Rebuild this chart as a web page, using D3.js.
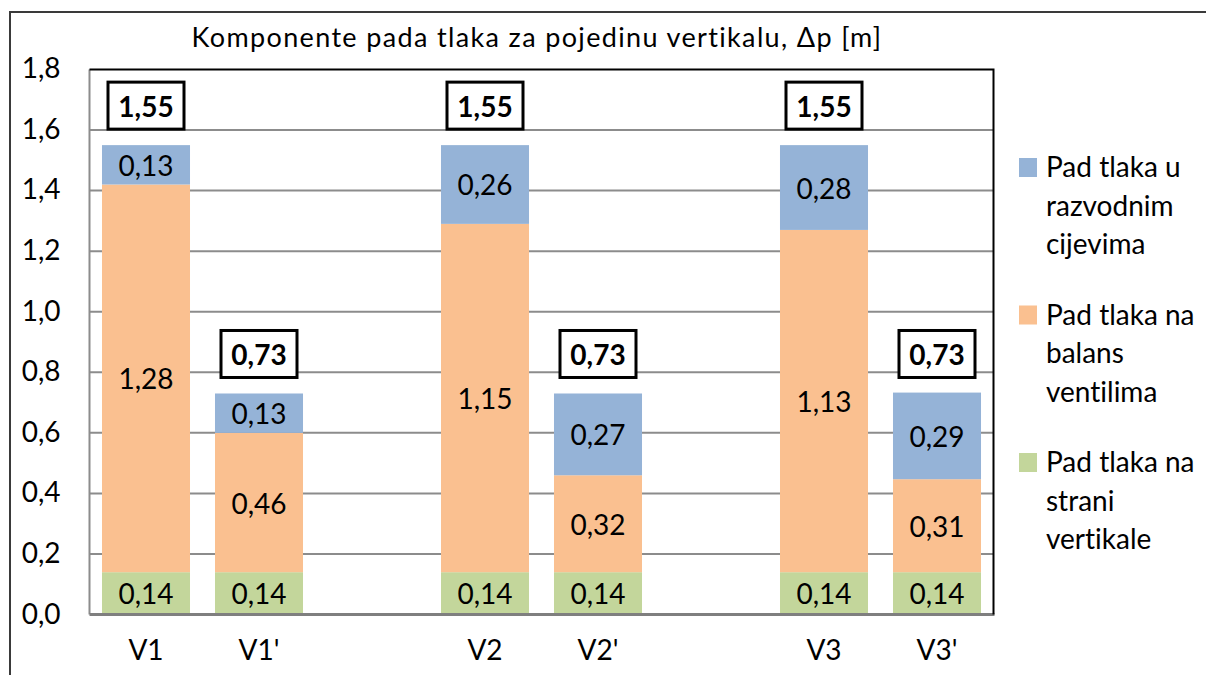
<!DOCTYPE html>
<html>
<head>
<meta charset="utf-8">
<script src="https://cdn.jsdelivr.net/npm/d3@7"></script>
<style>
  html, body { margin: 0; padding: 0; background: #fff; }
  svg { display: block; font-family: Lato, "Open Sans", sans-serif; font-variant-ligatures: none; }
  text { font-variant-ligatures: none; font-feature-settings: "liga" 0; }
</style>
</head>
<body>
<svg id="chart" width="1206" height="675"></svg>
<script>
// ---- data ----
const slots = ["V1", "V1'", "gap1", "V2", "V2'", "gap2", "V3", "V3'"];
const categories = ["V1", "V1'", "V2", "V2'", "V3", "V3'"];
const strani = [0.14, 0.14, 0.14, 0.14, 0.14, 0.14];
const balans = [1.28, 0.46, 1.15, 0.32, 1.13, 0.307];
const razvodne = [0.13, 0.13, 0.26, 0.27, 0.28, 0.286];
const totals = [1.55, 0.73, 1.55, 0.73, 1.55, 0.73];
const yTicks = [0, 0.2, 0.4, 0.6, 0.8, 1.0, 1.2, 1.4, 1.6, 1.8];
const legendLines = [["Pad tlaka u", "razvodnim", "cijevima"], ["Pad tlaka na", "balans", "ventilima"], ["Pad tlaka na", "strani", "vertikale"]];
const colors = { strani: "#C3D69B", balans: "#FAC090", razvodne: "#95B3D7" };
const title = "Komponente pada tlaka za pojedinu vertikalu, \u0394p [m]";

const fmt = v => d3.format(".2f")(v).replace(".", ",");
const fmt1 = v => d3.format(".1f")(v).replace(".", ",");

const svg = d3.select("#chart");

// outer chart border
svg.append("rect").attr("x", 10).attr("y", 12).attr("width", 1400).attr("height", 900)
  .attr("fill", "none").attr("stroke", "#3a3a3a").attr("stroke-width", 2);

const pLeft = 89.5, pRight = 993.5, pTop = 69.4, pBottom = 614.6;
const x = d3.scaleBand().domain(slots).range([pLeft, pRight]).paddingInner(0.221).paddingOuter(0.1105);
const y = d3.scaleLinear().domain([0, 1.8]).range([pBottom, pTop]);

// gridlines
svg.append("g").selectAll("line").data(yTicks.filter(t => t > 0 && t < 1.8)).join("line")
  .attr("x1", pLeft).attr("x2", pRight).attr("y1", d => y(d)).attr("y2", d => y(d))
  .attr("stroke", "#8c8c8c").attr("stroke-width", 2);

// stacked data
const rows = categories.map((c, i) => ({ cat: c, strani: strani[i], balans: balans[i], razvodne: razvodne[i], total: totals[i] }));
const keys = ["strani", "balans", "razvodne"];
const stacked = d3.stack().keys(keys)(rows);

const gBars = svg.append("g");
stacked.forEach(layer => {
  const g = gBars.append("g");
  g.selectAll("rect").data(layer).join("rect")
    .attr("x", d => x(d.data.cat)).attr("width", x.bandwidth())
    .attr("y", d => y(d[1])).attr("height", d => y(d[0]) - y(d[1]))
    .attr("fill", colors[layer.key]);
  g.selectAll("text").data(layer).join("text")
    .attr("x", d => x(d.data.cat) + x.bandwidth() / 2)
    .attr("y", d => (y(d[0]) + y(d[1])) / 2)
    .attr("text-anchor", "middle").attr("dominant-baseline", "central")
    .attr("font-size", 28).attr("fill", "#000")
    .text(d => fmt(d.data[layer.key]));
});

// axes lines
svg.append("line").attr("x1", pLeft).attr("x2", pLeft).attr("y1", pTop).attr("y2", pBottom)
  .attr("stroke", "#8c8c8c").attr("stroke-width", 2);
svg.append("line").attr("x1", pLeft).attr("x2", pRight + 1).attr("y1", pBottom).attr("y2", pBottom)
  .attr("stroke", "#7f7f7f").attr("stroke-width", 3);
// plot area top/right border
svg.append("path").attr("d", `M${pLeft},${pTop}H${pRight}V${pBottom}`)
  .attr("fill", "none").attr("stroke", "#000").attr("stroke-width", 2);

// y axis labels
const yAxis = d3.axisLeft(y).tickValues(yTicks).tickFormat(fmt1).tickSize(0).tickPadding(29);
const gy = svg.append("g").attr("transform", `translate(${pLeft},0)`).call(yAxis);
gy.select(".domain").remove();
gy.selectAll("text").attr("font-size", 28).attr("font-family", "Lato, sans-serif").attr("fill", "#000").attr("dy", "0.3em");

// x axis labels
const xAxis = d3.axisBottom(x).tickValues(categories).tickSize(0).tickPadding(26);
const gx = svg.append("g").attr("transform", `translate(0,${pBottom})`).call(xAxis);
gx.select(".domain").remove();
gx.selectAll("text").attr("font-size", 28).attr("font-family", "Lato, sans-serif").attr("fill", "#000");

// total boxes
const gt = svg.append("g");
rows.forEach(r => {
  const cx = x(r.cat) + x.bandwidth() / 2;
  const cy = y(r.total) - 39.5;
  gt.append("rect").attr("x", cx - 38).attr("y", cy - 23.5).attr("width", 76).attr("height", 47)
    .attr("fill", "#fff").attr("stroke", "#000").attr("stroke-width", 3);
  gt.append("text").attr("x", cx).attr("y", cy).attr("text-anchor", "middle")
    .attr("dominant-baseline", "central").attr("font-size", 28).attr("font-weight", "bold")
    .text(fmt(r.total));
});

// title
svg.append("text").attr("x", 537).attr("y", 47).attr("text-anchor", "middle")
  .attr("font-size", 27).attr("letter-spacing", 1.35).attr("fill", "#000").text(title);

// legend
const legendKeys = ["razvodne", "balans", "strani"];
const lg = svg.append("g");
legendKeys.forEach((k, i) => {
  const base = 177 + i * 147.5;
  lg.append("rect").attr("x", 1019).attr("y", base - 19).attr("width", 18).attr("height", 19)
    .attr("fill", colors[k]);
  legendLines[i].forEach((line, j) => {
    lg.append("text").attr("x", 1046).attr("y", base + j * 38.5)
      .attr("font-size", 28).attr("fill", "#000").text(line);
  });
});
</script>
</body>
</html>
